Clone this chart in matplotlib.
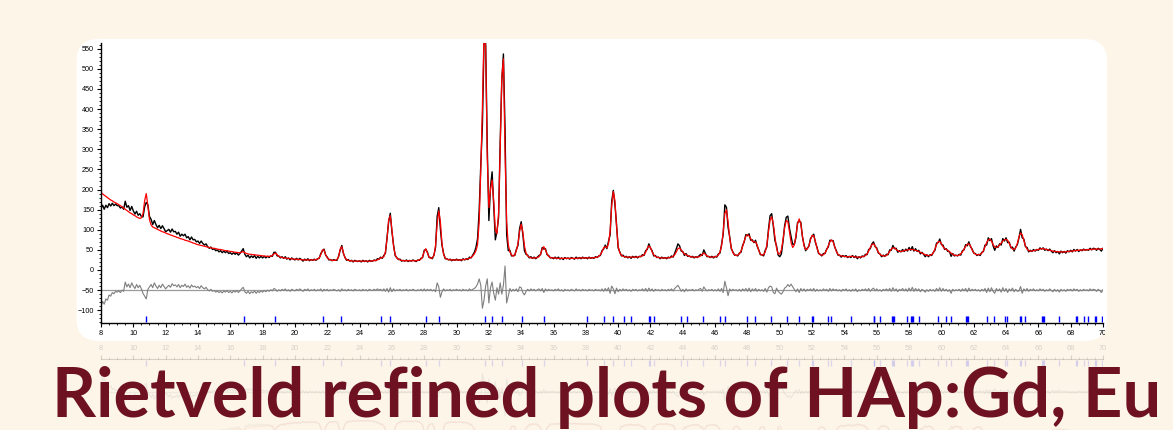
import numpy as np
import matplotlib
matplotlib.use("Agg")
import matplotlib.pyplot as plt
from matplotlib.patches import FancyBboxPatch
from matplotlib.ticker import MultipleLocator
from matplotlib.transforms import Bbox, TransformedBbox

plt.rcParams['font.family'] = ['Liberation Sans', 'DejaVu Sans']

# 2-theta grid, 0.1 deg step
two_theta = np.round(np.arange(8.0, 70.05, 0.1), 1)

# calculated profile (red), one row = 2 degrees
calc = np.array([
    193, 189, 186, 183, 180, 177, 174, 172, 169, 167, 165, 162, 160, 157, 154, 151, 148, 145, 142, 140,
    137, 135, 132, 130, 128, 130, 140, 172, 190, 160, 125, 112, 107, 105, 103, 101, 99, 97, 95, 94,
    92, 90, 89, 87, 86, 84, 83, 81, 80, 78, 77, 76, 74, 73, 72, 70, 69, 67, 66, 64,
    63, 62, 61, 60, 59, 58, 57, 56, 55, 54, 54, 53, 52, 51, 51, 50, 49, 48, 48, 47,
    46, 46, 45, 44, 44, 43, 43, 44, 46, 43, 41, 40, 39, 39, 38, 38, 37, 37, 36, 36,
    35, 35, 34, 34, 34, 34, 36, 40, 42, 38, 34, 32, 31, 30, 30, 29, 29, 28, 28, 27,
    27, 27, 26, 26, 26, 25, 25, 25, 25, 25, 25, 25, 25, 26, 27, 30, 38, 50, 50, 38,
    30, 27, 25, 24, 24, 24, 26, 33, 52, 58, 42, 30, 26, 24, 23, 23, 22, 22, 22, 22,
    22, 22, 22, 22, 22, 22, 22, 22, 23, 23, 24, 25, 27, 30, 31, 33, 45, 78, 125, 135,
    100, 60, 38, 30, 27, 25, 24, 23, 23, 23, 23, 23, 23, 23, 23, 23, 24, 25, 27, 33,
    46, 53, 42, 32, 29, 30, 36, 60, 115, 147, 120, 65, 38, 30, 27, 26, 25, 25, 25, 25,
    25, 25, 25, 25, 26, 26, 27, 28, 29, 31, 35, 40, 48, 63, 120, 250, 405, 590, 555, 280,
    155, 200, 224, 170, 100, 90, 140, 300, 480, 525, 290, 120, 63, 45, 38, 34, 38, 48, 65, 95,
    114, 95, 60, 42, 35, 32, 30, 30, 30, 30, 31, 33, 40, 52, 58, 50, 40, 34, 31, 30,
    30, 30, 29, 29, 29, 29, 29, 29, 29, 29, 29, 29, 29, 29, 29, 29, 30, 30, 30, 30,
    30, 30, 30, 30, 30, 31, 31, 32, 34, 38, 45, 55, 58, 55, 65, 95, 160, 195, 172, 108,
    59, 43, 37, 34, 33, 32, 32, 32, 32, 32, 32, 32, 32, 33, 34, 35, 38, 44, 54, 60,
    56, 45, 38, 34, 32, 31, 30, 30, 30, 30, 30, 30, 31, 32, 34, 38, 45, 53, 55, 50,
    44, 40, 38, 36, 34, 33, 32, 32, 32, 32, 33, 35, 39, 42, 39, 35, 33, 32, 32, 32,
    33, 34, 37, 45, 60, 95, 140, 150, 120, 80, 55, 43, 38, 36, 37, 40, 47, 58, 72, 84,
    88, 85, 78, 72, 70, 70, 62, 48, 40, 37, 38, 45, 62, 95, 125, 132, 115, 82, 55, 40,
    40, 50, 75, 105, 123, 120, 95, 68, 56, 62, 85, 115, 127, 115, 85, 60, 51, 52, 60, 75,
    86, 85, 72, 55, 43, 38, 37, 38, 42, 50, 60, 70, 75, 70, 58, 46, 39, 36, 35, 34,
    34, 33, 33, 33, 34, 34, 33, 32, 32, 32, 32, 33, 34, 36, 40, 47, 56, 63, 65, 60,
    52, 44, 39, 36, 35, 35, 36, 40, 46, 52, 55, 55, 51, 48, 46, 46, 47, 48, 49, 50,
    51, 51, 51, 50, 49, 48, 46, 44, 42, 40, 38, 37, 36, 36, 38, 43, 52, 63, 70, 71,
    66, 58, 53, 51, 49, 45, 42, 39, 37, 36, 36, 37, 40, 45, 52, 59, 64, 65, 60, 50,
    43, 39, 38, 38, 39, 42, 48, 58, 68, 75, 77, 72, 63, 57, 56, 58, 62, 67, 72, 75,
    76, 74, 66, 57, 52, 51, 55, 66, 82, 92, 88, 74, 60, 52, 48, 47, 47, 48, 49, 50,
    51, 52, 53, 53, 52, 51, 50, 49, 48, 47, 46, 46, 45, 45, 45, 45, 45, 45, 46, 46,
    47, 47, 48, 48, 49, 49, 49, 50, 50, 50, 50, 51, 51, 51, 52, 52, 52, 52, 52, 53,
    53,
])

# observed minus calculated (grey curve), same grid
diff = np.array([
    -40, -28, -35, -22, -25, -12, -15, -6, -9, -3, -5, -2, -6, 0, -3, 20, 8, 15, 6, 18,
    10, 4, 14, 6, 12, 3, -8, -15, -22, 2, 8, 14, 6, 18, 10, 4, 12, 6, 15, 9,
    3, 8, 12, 7, 16, 11, 13, 8, 14, 6, 12, 9, 15, 7, 11, 5, 13, 8, 10, 6,
    9, 4, 11, 6, 3, 7, 1, -2, 2, -3, -1, -5, -2, -6, -3, -7, -2, -5, -1, -6,
    -3, -7, -2, -5, -1, -6, -2, 3, 7, -4, -8, -3, -9, -4, -7, -2, -8, -3, -6, -2,
    -5, -1, -4, 0, -3, 1, -2, 4, 2, -3, 1, -2, 2, -1, 3, -2, 1, -3, 2, 0,
    -2, 2, -1, 3, 0, -3, 2, -1, 3, -2, 1, -1, 2, -2, 1, -1, 3, -3, 2, -1,
    2, -2, 1, -1, 2, 0, -2, 1, -3, 3, -1, 1, -2, 2, -1, 1, -2, 2, 0, -1,
    1, -2, 2, -1, 1, -2, 2, 0, -1, 2, -1, 3, 0, 2, -2, 3, -3, 4, -5, 6,
    -4, 3, -2, 1, -1, 2, -2, 1, -1, 2, -2, 1, -1, 2, 0, -2, 1, -1, 2, -2,
    3, -2, 2, -1, 2, -2, 1, -4, 18, 8, -18, -4, 3, -2, 1, -1, 2, -2, 1, -1,
    2, -1, 1, -2, 2, -1, 1, -2, 3, -1, 2, 4, 8, 15, 28, 12, -45, -25, 10, 28,
    -32, 6, 20, -8, -25, 6, -10, 18, -10, 12, 60, -32, -15, 4, -3, 2, -2, 3, -4, 8,
    6, -6, -12, -3, 2, -2, 3, -1, 2, -2, 1, 3, -2, 4, -6, 3, -2, 2, -1, 1,
    -2, 2, -1, 3, -2, 1, -3, 2, -1, 1, -2, 2, 0, -2, 3, -1, 1, -2, 2, -1,
    1, -2, 2, -1, 1, -2, 2, -1, 1, -2, 3, -3, 4, -2, 6, -8, 10, 3, -9, 5,
    -4, 2, -2, 3, -1, 2, -2, 1, -3, 2, -1, 2, -2, 1, -1, 3, -2, 4, -3, 5,
    -2, 3, -3, 2, -1, 1, -2, 2, -1, 1, -2, 2, -1, 3, -2, 4, 8, 12, 5, -3,
    2, -4, 3, -2, 1, -1, 2, -2, 1, -1, 2, 4, -3, 8, 2, -2, 1, -1, 2, -2,
    1, -2, 3, -3, 4, -6, 22, 6, -14, 3, -2, 2, -1, 1, -2, 2, -3, 3, -2, 4,
    -3, 5, -4, 3, -2, 4, -3, 2, -2, 1, -3, 4, -5, 6, 10, 8, -6, -9, 5, -3,
    -7, -10, -4, 5, 8, 14, 9, 15, 8, 2, -4, 3, -6, 4, -2, 3, -3, 2, -1, 3,
    -2, 4, -3, 2, -2, 1, -2, 3, -1, 2, -3, 4, -2, 3, -1, 2, -2, 1, -3, 2,
    -1, 3, -2, 1, -3, 2, -2, 3, -4, 1, -2, 2, -1, 3, -2, 4, -3, 2, 5, -2,
    3, -2, 1, -3, 2, -1, 3, -2, 4, -3, 6, -2, 3, -4, 2, -1, 4, -2, 3, -3,
    5, -2, 7, -3, 4, -2, 3, -4, 2, -1, -5, 1, -3, 2, -2, 1, -3, 4, -2, 6,
    -3, 4, -2, 2, -3, 1, -8, 2, -2, 1, -1, 2, -3, 3, -2, 4, -4, 5, -2, 2,
    -1, 2, -2, 1, -3, 2, -2, 4, -6, 5, -4, 6, -3, -8, 4, -2, 3, -5, 6, -3,
    4, -6, 3, -2, 5, -4, 2, -3, -2, 9, -8, 3, -2, 4, -3, 2, -1, 3, -2, 1,
    -2, 3, -1, 2, -3, 1, -2, 3, -1, -4, 2, -3, 1, -5, 2, -2, 1, -3, 2, -1,
    2, -2, 3, -1, 2, -3, 1, -2, 2, -1, 1, -2, 3, -1, 2, 1, -3, 2, -1, -6,
    1,
])

obs = calc + diff
diff_offset = -50

# Bragg reflection positions (blue ticks)
hkl_pos = [10.78, 16.85, 18.77, 21.72, 22.83, 25.33, 25.88, 28.09, 28.9, 31.76,
           32.2, 32.84, 34.03, 35.4, 38.1, 39.13, 39.69, 40.37, 40.81, 41.89,
           41.95, 42.24, 43.87, 44.28, 45.27, 46.3, 46.61, 47.99, 48.49, 49.44,
           50.43, 51.19, 51.98, 52.04, 52.98, 53.14, 54.43, 55.8, 55.86, 56.22,
           56.93, 57.0, 57.08, 57.9, 58.1, 58.17, 58.24, 58.63, 59.79, 60.29,
           60.6, 61.5, 61.58, 61.65, 62.85, 63.28, 63.92, 64.08, 64.86, 64.93,
           65.18, 66.21, 66.27, 66.33, 67.28, 68.33, 68.4, 68.83, 69.1, 69.51,
           69.57, 69.92]

x_ticks = list(range(8, 71, 2))
y_ticks = list(range(-100, 551, 50))
title = "Rietveld refined plots of HAp:Gd, Eu"

W, H = 1173, 430
fig = plt.figure(figsize=(W / 100, H / 100), dpi=100, facecolor='#FDF5E8')

# white rounded card behind the chart
card = FancyBboxPatch((0.765, 0.89), 10.305, 3.02,
                      boxstyle='round,pad=0,rounding_size=0.22',
                      transform=fig.dpi_scale_trans, fc='white', ec='none', zorder=-5)
fig.add_artist(card)

ax_box = [101 / W, (H - 322.7) / H, 1002 / W, 280 / H]
ax = fig.add_axes(ax_box)
ax.set_facecolor('none')


def draw_pattern(a, alpha=1.0, curve_alpha=1.0):
    a.plot(two_theta, obs, color='black', lw=1.0, alpha=curve_alpha)
    a.plot(two_theta, calc, color='red', lw=0.9, alpha=curve_alpha)
    a.axhline(diff_offset, color='#9a9a9a', lw=0.9, alpha=alpha)
    a.plot(two_theta, diff + diff_offset, color='#7f7f7f', lw=0.8, alpha=alpha)
    a.vlines(hkl_pos, -129, -114, color='blue', lw=1.0, alpha=alpha)
    a.set_xlim(8, 70)
    a.set_xticks(x_ticks)
    a.xaxis.set_minor_locator(MultipleLocator(0.5))
    for s in ['top', 'right']:
        a.spines[s].set_visible(False)


draw_pattern(ax)
ax.set_ylim(-131, 565)
ax.set_yticks(y_ticks)
ax.yaxis.set_minor_locator(MultipleLocator(10))
ax.tick_params(axis='both', which='major', labelsize=5.2, length=3, width=0.8, pad=2)
ax.tick_params(axis='both', which='minor', length=1.5, width=0.6)
ax.spines['left'].set_linewidth(1.0)
ax.spines['bottom'].set_linewidth(1.0)

# faint mirrored reflection under the card
ax_r = fig.add_axes([ax_box[0], (H - 639.3) / H, ax_box[2], ax_box[3]])
ax_r.set_facecolor('none')
draw_pattern(ax_r, alpha=0.13, curve_alpha=0.04)
ax_r.set_ylim(565, -131)
ax_r.set_yticks([])
ax_r.spines['left'].set_visible(False)
ax_r.spines['bottom'].set_visible(False)
ax_r.spines['top'].set_visible(True)
ax_r.spines['top'].set_alpha(0.15)
ax_r.xaxis.tick_top()
ax_r.tick_params(axis='x', which='major', labelsize=5.2, length=3, pad=2,
                 colors=(0, 0, 0, 0.15))
ax_r.tick_params(axis='x', which='minor', length=1.5, colors=(0, 0, 0, 0.15))
ax_r.set_zorder(-1)

fig.text(52 / W, (H - 417) / H, title, fontsize=49.4, fontweight='bold',
         family=['Lato', 'DejaVu Sans'], color='#6E1222', ha='left', va='baseline',
         zorder=10)

# the "70" label is cut by the card edge in the original
fig.canvas.draw()
clip = TransformedBbox(Bbox([[0, 0], [1104.5 / 100, H / 100]]), fig.dpi_scale_trans)
for t in ax.xaxis.get_major_ticks():
    t.label1.set_clip_on(True)
    t.label1.set_clip_box(clip)

fig.savefig('out.png', dpi=100, facecolor=fig.get_facecolor())
